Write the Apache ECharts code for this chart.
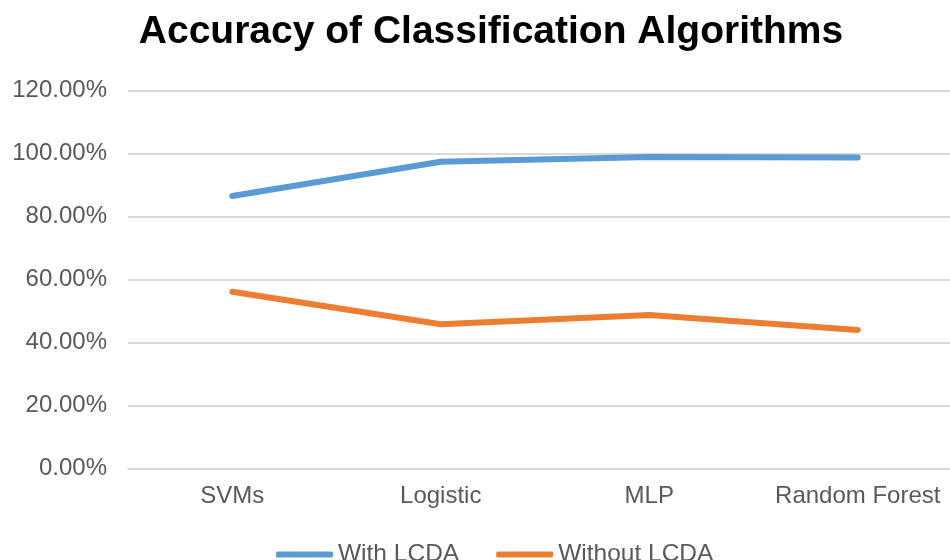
<!DOCTYPE html>
<html>
<head>
<meta charset="utf-8">
<script src="https://cdn.jsdelivr.net/npm/echarts@6/dist/echarts.min.js"></script>
<style>html,body{margin:0;padding:0;background:#fff;overflow:hidden;width:950px;height:560px}#c{width:962px;height:560px}</style>
</head>
<body>
<div id="c"></div>
<script>
const categories = ["SVMs", "Logistic", "MLP", "Random Forest"];
const withLCDA = [86.5, 97.4, 98.9, 98.7];
const withoutLCDA = [56.1, 45.8, 48.7, 44.0];
const seriesNames = ["With LCDA", "Without LCDA"];
const titleText = "Accuracy of Classification Algorithms";

const chart = echarts.init(document.getElementById('c'), null, {renderer: 'canvas'});
const FONT = '"Liberation Sans", Arial, sans-serif';
chart.setOption({
  animation: false,
  backgroundColor: '#ffffff',
  title: {
    text: titleText,
    left: 486, top: 8, textAlign: 'center',
    textStyle: {fontFamily: FONT, fontWeight: 'bold', fontSize: 39, color: '#000000'}
  },
  legend: {
    data: seriesNames,
    left: 271, top: 537,
    itemWidth: 57, itemHeight: 6, itemGap: 37,
    icon: 'roundRect',
    textStyle: {fontFamily: FONT, fontSize: 24.5, color: '#595959', padding: [0,0,0,0]}
  },
  grid: {left: 128, top: 90.5, right: 0, height: 378, containLabel: false},
  xAxis: {
    type: 'category', data: categories, boundaryGap: true,
    axisLine: {show: true, lineStyle: {color: '#d9d9d9', width: 2}},
    axisTick: {show: false},
    axisLabel: {interval: 0, fontFamily: FONT, fontSize: 24, color: '#595959', margin: 16}
  },
  yAxis: {
    type: 'value', min: 0, max: 120, interval: 20,
    axisLine: {show: false}, axisTick: {show: false},
    splitLine: {lineStyle: {color: '#d9d9d9', width: 2}},
    axisLabel: {fontFamily: FONT, fontSize: 24, color: '#595959', margin: 21,
      formatter: v => v.toFixed(2) + '%'}
  },
  series: [
    {name: seriesNames[0], type: 'line', data: withLCDA, symbol: 'none',
     lineStyle: {color: '#5B9BD5', width: 6, cap: 'round', join: 'round'}, itemStyle: {color: '#5B9BD5'}},
    {name: seriesNames[1], type: 'line', data: withoutLCDA, symbol: 'none',
     lineStyle: {color: '#ED7D31', width: 6, cap: 'round', join: 'round'}, itemStyle: {color: '#ED7D31'}}
  ]
});
</script>
</body>
</html>
